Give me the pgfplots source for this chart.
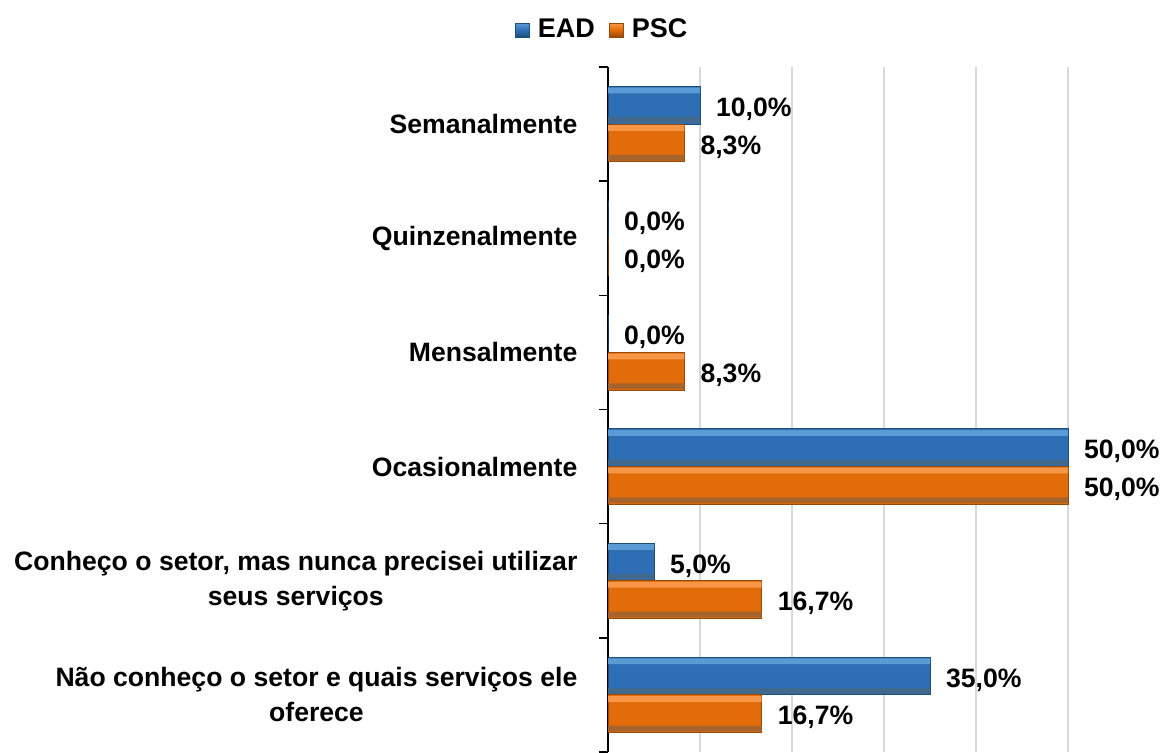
\documentclass[border=0pt]{standalone}
\usepackage{pgfplots}
\pgfplotsset{compat=1.18}
\usepackage{fontspec}
\setmainfont{Liberation Sans}
\definecolor{eadmain}{HTML}{2E6EB5}
\definecolor{eadlight}{HTML}{5B9BD5}
\definecolor{eaddark}{HTML}{1F4E79}
\definecolor{pscmain}{HTML}{E36C0A}
\definecolor{psclight}{HTML}{F79646}
\definecolor{pscdark}{HTML}{984807}
\definecolor{gridgray}{HTML}{D9D9D9}
\pgfplotstableread{
x  y  lab
35 0  35
5  1  5
50 2  50
0  3  0
0  4  0
10 5  10
}\ead
\pgfplotstableread{
x    y  lab
16.7 0  16.7
16.7 1  16.7
50   2  50
8.3  3  8.3
0    4  0
8.3  5  8.3
}\psc
\begin{document}
\begin{tikzpicture}
\path[use as bounding box] (0,0) rectangle (582.5pt,376pt);
\begin{axis}[
  at={(304pt,0pt)}, anchor=south west,
  scale only axis, width=276pt, height=342.5pt,
  xmin=0, xmax=60, ymin=-0.5, ymax=5.5,
  axis x line*=bottom, axis y line*=left,
  x axis line style={draw=none},
  y axis line style={black, line width=0.8pt, -},
  xtick={10,20,30,40,50}, xticklabels={},
  xtick style={draw=none},
  xmajorgrids, grid style={gridgray, line width=0.8pt},
  ytick={0,...,5},
  yticklabels={{Não conheço o setor e quais serviços ele\\oferece},
               {Conheço o setor, mas nunca precisei utilizar\\seus serviços},
               Ocasionalmente, Mensalmente, Quinzenalmente, Semanalmente},
  major y tick style={draw=none},
  minor ytick={-0.5,0.5,...,5.5},
  minor y tick style={black, line width=0.8pt},
  minor tick length=4.5pt,
  tick align=outside,
  yticklabel style={align=center, font=\fontsize{13.3}{17.5}\selectfont\bfseries, xshift=-7.5pt},
  xbar,
  /pgf/number format/assume math mode=true,
  legend style={at={(rel axis cs:-0.009,1.054)}, anchor=center, draw=none, fill=none,
    legend columns=2, font=\fontsize{13.5}{15}\selectfont\bfseries,
    /tikz/every even column/.append style={column sep=5pt}},
  clip=false,
  lbl/.style={nodes near coords={\pgfmathprintnumber[fixed,fixed zerofill,precision=1,use comma]{\pgfplotspointmeta}\%},
    point meta=explicit,
    nodes near coords style={font=\fontsize{13.3}{15}\selectfont\bfseries, black, anchor=west, xshift=4.5pt, yshift=-2pt}},
]
% main bars
\addplot[bar width=0.33, bar shift=0.165, draw=eaddark, line width=0.5pt, fill=eadmain, lbl,
  legend image code/.code={\shade[top color=eadlight, bottom color=eaddark, middle color=eadmain, draw=eaddark] (0pt,-3.5pt) rectangle (7pt,3.5pt);}]
  table[x=x, y=y, meta=lab] {\ead};
\addlegendentry{\hspace{2pt}EAD}
\addplot[bar width=0.33, bar shift=-0.165, draw=pscdark, line width=0.5pt, fill=pscmain, lbl,
  legend image code/.code={\shade[top color=psclight, bottom color=pscdark, middle color=pscmain, draw=pscdark] (0pt,-3.5pt) rectangle (7pt,3.5pt);}]
  table[x=x, y=y, meta=lab] {\psc};
\addlegendentry{\hspace{2pt}PSC}
% bevel highlights
\addplot[forget plot, bar width=0.05, bar shift=0.295, draw=none, fill=eadlight] table[x=x, y=y] {\ead};
\addplot[forget plot, bar width=0.05, bar shift=0.035, draw=none, fill=eaddark!85] table[x=x, y=y] {\ead};
\addplot[forget plot, bar width=0.05, bar shift=-0.035, draw=none, fill=psclight] table[x=x, y=y] {\psc};
\addplot[forget plot, bar width=0.05, bar shift=-0.295, draw=none, fill=pscdark!85] table[x=x, y=y] {\psc};
\end{axis}
\end{tikzpicture}
\end{document}
